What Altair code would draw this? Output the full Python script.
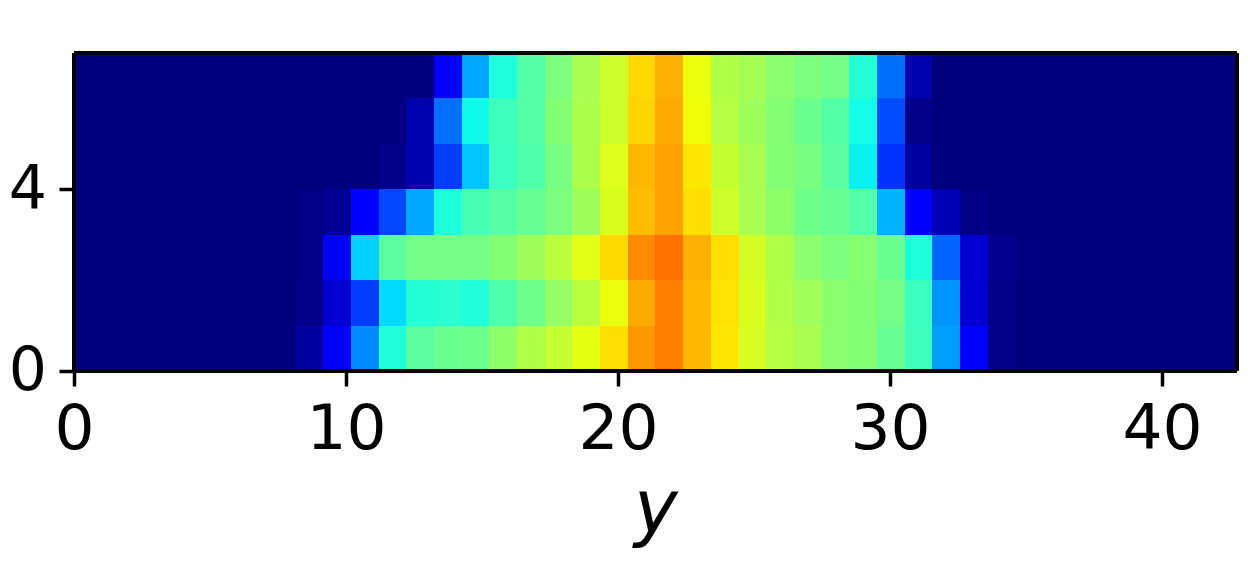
import altair as alt
import pandas as pd

x_max = 42.76
y_max = 7
n_cols = 42
x_ticks = [0, 10, 20, 30, 40]
y_ticks = [0, 4]

# values for columns 8..34 of each row; the other columns are 0
row0 = [.025,.11,.26,.39,.46,.48,.485,.525,.565,.59,.63,.675,.75,.775,.715,.665,.61,.57,.555,.52,.51,.475,.425,.28,.11,.008,.002]
row1 = [.01,.07,.185,.34,.395,.4,.39,.445,.485,.53,.575,.635,.73,.775,.715,.67,.615,.565,.545,.52,.51,.49,.42,.27,.07,.008,0]
row2 = [.007,.11,.33,.46,.49,.49,.49,.51,.54,.575,.625,.68,.765,.79,.725,.675,.605,.565,.52,.5,.515,.48,.385,.225,.07,.012,.003]
row3 = [.007,.02,.115,.195,.29,.385,.435,.455,.475,.5,.54,.615,.71,.74,.675,.6,.555,.525,.485,.475,.45,.3,.11,.05,.007,0,0]
row4 = [0,0,0,.01,.04,.185,.32,.42,.445,.495,.56,.62,.715,.74,.665,.59,.555,.51,.495,.46,.36,.175,.025,0,0,0,0]
row5 = [0,0,0,0,.04,.235,.37,.425,.45,.51,.56,.60,.685,.73,.64,.57,.54,.51,.48,.45,.375,.2,.01,0,0,0,0]
row6 = [0,0,0,0,0,.11,.29,.385,.45,.5,.555,.60,.68,.725,.635,.565,.55,.52,.5,.49,.395,.235,.04,0,0,0,0]
rows = [row0, row1, row2, row3, row4, row5, row6]

jet_stops = [0, .11, .125, .34, .35, .375, .64, .65, .66, .89, .91, 1]
jet_colors = ["#00007f", "#0000ff", "#0000ff", "#00dbff", "#00e6f7", "#14ffe6",
              "#eeff08", "#f7f600", "#ffec00", "#ff1300", "#e80000", "#7f0000"]

records = []
cell_w = x_max / n_cols
for r, vals in enumerate(rows):
    full = [0] * 8 + vals + [0] * 7
    for k, v in enumerate(full):
        records.append({"x0": k * cell_w, "x1": (k + 1) * cell_w, "y0": r, "y1": r + 1, "v": v})
df = pd.DataFrame(records)

FONT = "DejaVu Sans"
x_scale = alt.Scale(domain=[0, x_max], round=True, nice=False, zero=False)
y_scale = alt.Scale(domain=[0, y_max], round=True, nice=False, zero=False)
x_axis = alt.Axis(
    values=x_ticks, title="y", titleFont=FONT, titleFontStyle="italic", titleFontWeight="normal",
    titleFontSize=74, titleColor="black", titlePadding=13, domain=False, grid=False,
    labelFont=FONT, labelFontSize=63, labelColor="black", labelPadding=12, labelOverlap=False,
    labelFlush=False, tickColor="black", tickWidth=3.5, tickSize=15, format="d")
y_axis = alt.Axis(
    values=y_ticks, title=None, domain=False, grid=False,
    labelFont=FONT, labelFontSize=60, labelColor="black", labelPadding=12.5, labelOverlap=False,
    labelFlush=False, tickColor="black", tickWidth=3.5, tickSize=15, format="d")

cells = alt.Chart(df).mark_rect(strokeWidth=0).encode(
    x=alt.X("x0:Q", scale=x_scale, axis=x_axis),
    x2="x1:Q",
    y=alt.Y("y0:Q", scale=y_scale, axis=y_axis),
    y2="y1:Q",
    color=alt.Color("v:Q", legend=None,
                    scale=alt.Scale(domain=jet_stops, range=jet_colors, interpolate="rgb")),
)

def hframe(val):
    return alt.Chart(pd.DataFrame({"y": [val]})).mark_rule(color="black", size=4).encode(
        y=alt.Y("y:Q", scale=y_scale, axis=y_axis))

def vframe(val):
    return alt.Chart(pd.DataFrame({"x": [val]})).mark_rule(color="black", size=4).encode(
        x=alt.X("x:Q", scale=x_scale, axis=x_axis))

chart = alt.layer(cells, hframe(0), hframe(y_max), vframe(0), vframe(x_max)).properties(
    width=1163, height=318,
    autosize=alt.AutoSizeParams(type="none"),
    padding={"left": 66, "top": 45, "right": 5, "bottom": 190},
).configure_view(stroke=None)

chart.save("out.html", embed_options={"renderer": "svg", "actions": False})
